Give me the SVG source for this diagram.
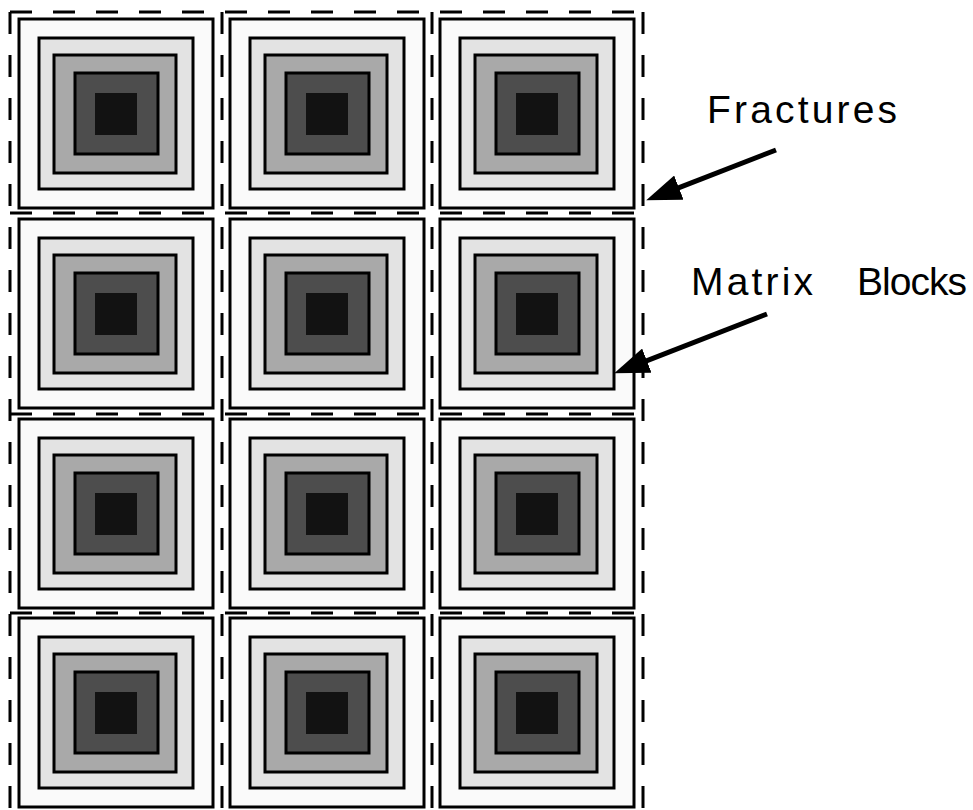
<svg xmlns="http://www.w3.org/2000/svg" width="973" height="810" viewBox="0 0 973 810">
<style>
.frac{stroke:#000;stroke-width:3;stroke-dasharray:22 21;fill:none}
.ln{stroke:#000;stroke-width:3}
.lbl{font-family:"Liberation Sans",Arial,sans-serif;font-size:39px;fill:#000}
.arr{stroke:#000;stroke-width:5;fill:none}
</style>
<defs>
<g id="blk">
<rect x="0" y="0" width="194" height="189" fill="#fafafa" class="ln"/>
<rect x="20" y="19" width="154" height="151" fill="#e3e3e3" class="ln"/>
<rect x="35" y="36" width="122" height="118" fill="#a9a9a9" class="ln"/>
<rect x="56" y="54" width="83" height="81" fill="#4d4d4d" class="ln"/>
<rect x="76" y="74" width="42" height="42" fill="#121212"/>
</g>
<marker id="ah" markerUnits="userSpaceOnUse" markerWidth="36" markerHeight="26" refX="17" refY="13" orient="auto">
<path d="M0,0 L35,13 L0,26 z" fill="#000"/>
</marker>
</defs>
<rect width="973" height="810" fill="#fff"/>
<g id="fractures">
<line class="frac" x1="10" y1="12" x2="10" y2="810"/>
<line class="frac" x1="222" y1="12" x2="222" y2="810"/>
<line class="frac" x1="432" y1="12" x2="432" y2="810"/>
<line class="frac" x1="643" y1="12" x2="643" y2="810"/>
<line class="frac" x1="10" y1="12" x2="643" y2="12"/>
<line class="frac" x1="10" y1="213" x2="643" y2="213"/>
<line class="frac" x1="10" y1="414" x2="643" y2="414"/>
<line class="frac" x1="10" y1="613" x2="643" y2="613"/>
</g>
<g id="block-r1c1"><use href="#blk" x="19" y="19"/></g>
<g id="block-r1c2"><use href="#blk" x="230" y="19"/></g>
<g id="block-r1c3"><use href="#blk" x="440" y="19"/></g>
<g id="block-r2c1"><use href="#blk" x="19" y="219"/></g>
<g id="block-r2c2"><use href="#blk" x="230" y="219"/></g>
<g id="block-r2c3"><use href="#blk" x="440" y="219"/></g>
<g id="block-r3c1"><use href="#blk" x="19" y="419"/></g>
<g id="block-r3c2"><use href="#blk" x="230" y="419"/></g>
<g id="block-r3c3"><use href="#blk" x="440" y="419"/></g>
<g id="block-r4c1"><use href="#blk" x="19" y="618"/></g>
<g id="block-r4c2"><use href="#blk" x="230" y="618"/></g>
<g id="block-r4c3"><use href="#blk" x="440" y="618"/></g>
<g id="label-fractures">
<text class="lbl" x="707" y="123" textLength="190" lengthAdjust="spacing">Fractures</text>
</g>
<g id="label-matrix">
<text class="lbl" x="691" y="295"><tspan textLength="122" lengthAdjust="spacing">Matrix</tspan> <tspan x="857" textLength="110" lengthAdjust="spacing">Blocks</tspan></text>
</g>
<g id="connectors">
<line class="arr" x1="776" y1="150" x2="663" y2="193.8" marker-end="url(#ah)"/>
<line class="arr" x1="767" y1="314" x2="631" y2="366.8" marker-end="url(#ah)"/>
</g>
</svg>
